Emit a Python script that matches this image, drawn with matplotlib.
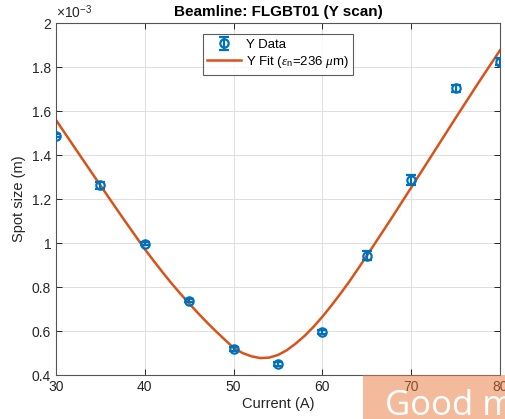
import matplotlib
matplotlib.use("Agg")
import matplotlib.pyplot as plt
from matplotlib.patches import Rectangle

# measured spot sizes (units of 1e-3 m)
current = [30, 35, 40, 45, 50, 55, 60, 65, 70, 75, 80]
spot = [1.488, 1.262, 0.997, 0.738, 0.517, 0.449, 0.597, 0.943, 1.286, 1.703, 1.824]
spot_err = [0.008, 0.016, 0.008, 0.007, 0.010, 0.008, 0.009, 0.020, 0.024, 0.016, 0.016]

# fit curve
fit_current = [30, 32.5, 35, 37.5, 40, 41, 42, 43, 44, 45, 46, 47, 48, 49, 50, 51, 52,
               53, 54, 55, 56, 57, 58, 59, 60, 61, 62, 63, 64, 65, 67.5, 70, 72.5,
               75, 77.5, 80]
fit_spot = [1.559, 1.410, 1.262, 1.115, 0.972, 0.919, 0.867, 0.817, 0.770, 0.725,
            0.681, 0.639, 0.599, 0.561, 0.523, 0.500, 0.485, 0.477, 0.479, 0.491,
            0.513, 0.543, 0.578, 0.619, 0.665, 0.715, 0.768, 0.823, 0.882, 0.942,
            1.095, 1.252, 1.410, 1.568, 1.724, 1.876]

x_ticks = [30, 40, 50, 60, 70, 80]
y_ticks = [0.4, 0.6, 0.8, 1.0, 1.2, 1.4, 1.6, 1.8, 2.0]

BLUE = "#0072BD"
ORANGE = "#D95319"
AX_COLOR = "#262626"

plt.rcParams["font.family"] = ["Liberation Sans", "DejaVu Sans"]
plt.rcParams["mathtext.fontset"] = "custom"
plt.rcParams["mathtext.it"] = "Liberation Serif:italic"
plt.rcParams["mathtext.rm"] = "Liberation Sans"

fig = plt.figure(figsize=(5.05, 4.19), dpi=100)
ax = fig.add_axes([56 / 505, 1 - 375 / 419, 444 / 505, 352 / 419])

data_h = ax.errorbar(current, spot, yerr=spot_err, fmt="o", color=BLUE, mfc="none",
                     mew=1.6, ms=6, elinewidth=1.6, capsize=3.5, capthick=1.6,
                     label="Y Data", zorder=3)
fit_h, = ax.plot(fit_current, fit_spot, color=ORANGE, lw=1.8,
                 label=r"Y Fit ($\epsilon_{\rm n}$=236 $\mu$m)", zorder=2)

ax.set_xlim(30, 80)
ax.set_ylim(0.4, 2.0)
ax.set_xticks(x_ticks)
ax.set_yticks(y_ticks)
ax.set_yticklabels([f"{v:g}" for v in y_ticks])
ax.tick_params(direction="in", length=4, width=0.7, colors=AX_COLOR,
               labelsize=10, top=True, right=True)
for s in ax.spines.values():
    s.set_color("#555555")
    s.set_linewidth(0.8)
ax.grid(True, color="#dedede", lw=0.7)
ax.set_axisbelow(True)

ax.set_xlabel("Current (A)", fontsize=10.5, color=AX_COLOR, labelpad=2)
ax.set_ylabel("Spot size (m)", fontsize=10.5, color=AX_COLOR, labelpad=4)
ax.set_title("Beamline: FLGBT01 (Y scan)", fontsize=11, fontweight="bold",
             color="black", pad=5)
ax.text(0.0, 1.005, r"$\times$10$^{-3}$", transform=ax.transAxes, fontsize=10,
        color=AX_COLOR, ha="left", va="bottom")

leg = ax.legend(handles=[data_h, fit_h], loc="upper center",
                bbox_to_anchor=(0.5, 0.969), fontsize=9.5,
                frameon=True, fancybox=False, edgecolor="#333333",
                borderpad=0.35, labelspacing=0.25, handlelength=2.6,
                handletextpad=0.35, borderaxespad=0)
leg.get_frame().set_linewidth(0.8)

# translucent overlay box in the lower right corner
fig.patches.append(Rectangle((363 / 505, 0), 142 / 505, 44 / 419,
                             transform=fig.transFigure, facecolor="#E8783A",
                             alpha=0.5, edgecolor="none", zorder=10))
fig.text(385 / 505, -4 / 419, "Good morning", fontsize=25, color="white",
         family="Open Sans", ha="left", va="bottom", zorder=11)

fig.savefig("out.png", dpi=100)
